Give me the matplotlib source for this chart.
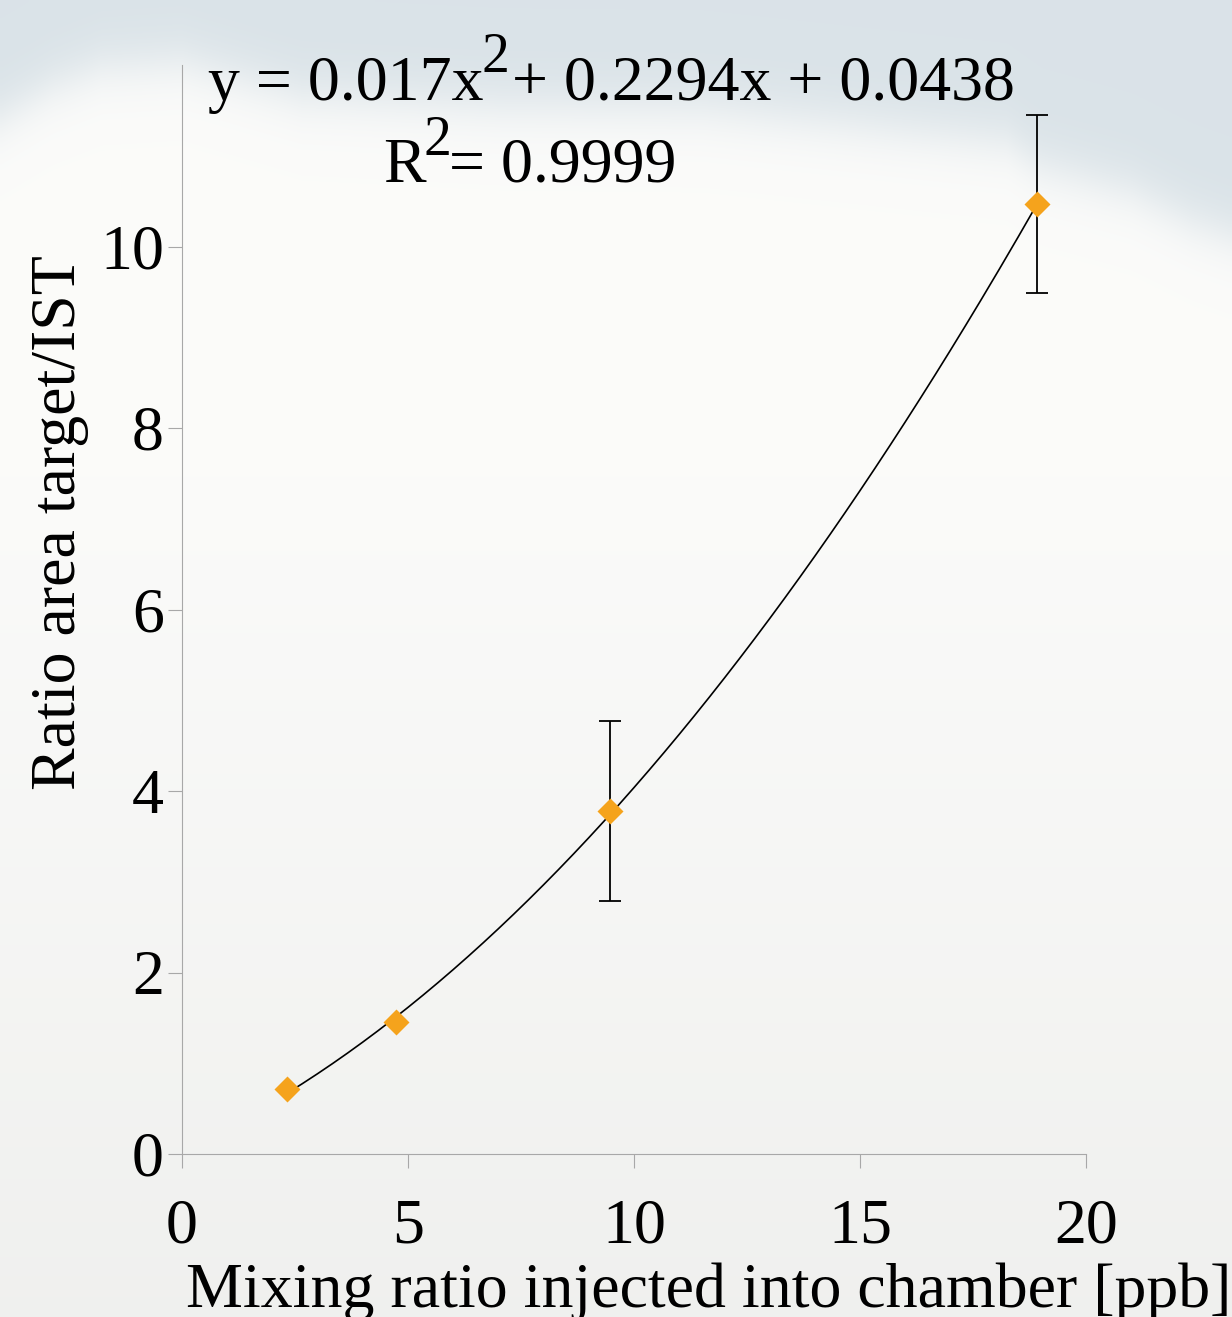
import numpy as np
import matplotlib.pyplot as plt

plt.rcParams['font.family'] = ['Liberation Serif', 'DejaVu Serif']

# data
mixing_ppb = [2.33, 4.74, 9.48, 18.92]
area_ratio = [0.72, 1.45, 3.78, 10.47]
ratio_err = [0.0, 0.0, 0.99, 0.98]
fit_coef = [0.017, 0.2294, 0.0438]   # y = a x^2 + b x + c (shown on chart)
x_ticks = [0, 5, 10, 15, 20]
y_ticks = [0, 2, 4, 6, 8, 10]

W, H = 1232, 1317
sky = np.array([0.855, 0.89, 0.91])
cloud = np.array([0.985, 0.985, 0.98])
haze = np.array([0.94, 0.942, 0.935])
marker_orange = '#f5a31c'
axis_grey = '#a8a8a8'
fs = 46


def fx(px):
    return px / W


def fy(py):
    return 1 - py / H


fig = plt.figure(figsize=(W / 100, H / 100), dpi=100)

# cloudy sky background
bg = fig.add_axes([0, 0, 1, 1], zorder=-10)
rows, cols = 330, 308
yy, xx = np.mgrid[0:rows, 0:cols]
edge = np.interp(xx / cols * W,
                 [0, 50, 100, 180, 300, 500, 700, 1005, 1040, 1130, 1190, 1232],
                 [115, 85, 65, 60, 95, 105, 107, 140, 165, 190, 220, 235]) / H * rows
t = 1 / (1 + np.exp(-(yy - edge) / 4.0))
low = np.clip((yy / rows - 0.35) / 0.65, 0, 1)[..., None]
below = cloud * (1 - low) + haze * low
img = sky * (1 - t[..., None]) + below * t[..., None]
bg.imshow(img, extent=[0, 1, 0, 1], aspect='auto', interpolation='bilinear')
bg.axis('off')

ax = fig.add_axes([fx(182), fy(1154), fx(1086 - 182), (1154 - 65) / H])
ax.patch.set_alpha(0)

x_fit = np.linspace(min(mixing_ppb), max(mixing_ppb), 200)
ax.plot(x_fit, np.polyval(fit_coef, x_fit), color='black', lw=1.2, zorder=3)

x_arr = np.array(mixing_ppb)
y_arr = np.array(area_ratio)
e_arr = np.array(ratio_err)
has_err = e_arr > 0
ax.errorbar(x_arr[has_err], y_arr[has_err], yerr=e_arr[has_err], fmt='none',
            ecolor='black', elinewidth=1.3, capsize=8, capthick=1.3, zorder=2)
ax.plot(mixing_ppb, area_ratio, 'D', color=marker_orange, ms=13, mec='none', zorder=4)

ax.set_xlim(0, 20)
ax.set_ylim(0, 12)
ax.set_xticks(x_ticks)
ax.set_yticks(y_ticks)
for side in ['top', 'right']:
    ax.spines[side].set_visible(False)
for side in ['left', 'bottom']:
    ax.spines[side].set_color(axis_grey)
    ax.spines[side].set_linewidth(0.8)
ax.tick_params(direction='out', length=10, width=0.8, color=axis_grey,
               labelsize=fs, labelcolor='black')
ax.tick_params(axis='y', pad=3)
ax.tick_params(axis='x', pad=22)

# axis titles
fig.text(fx(186), fy(1307), 'Mixing ratio injected into chamber [ppb]',
         fontsize=fs, ha='left', va='baseline')
fig.text(fx(60), fy(790), 'Ratio area target/IST', fontsize=fs,
         rotation=90, ha='center', va='bottom')

# trendline equation
fig.text(fx(208), fy(100), 'y = 0.017x', fontsize=fs, ha='left', va='baseline')
fig.text(fx(481), fy(72), '2', fontsize=40, ha='left', va='baseline')
fig.text(fx(1015), fy(100), '+ 0.2294x + 0.0438', fontsize=fs, ha='right', va='baseline')
fig.text(fx(383), fy(182), 'R', fontsize=fs, ha='left', va='baseline')
fig.text(fx(423), fy(155), '2', fontsize=40, ha='left', va='baseline')
fig.text(fx(676), fy(182), '= 0.9999', fontsize=fs, ha='right', va='baseline')

fig.savefig('out.png', dpi=100)
